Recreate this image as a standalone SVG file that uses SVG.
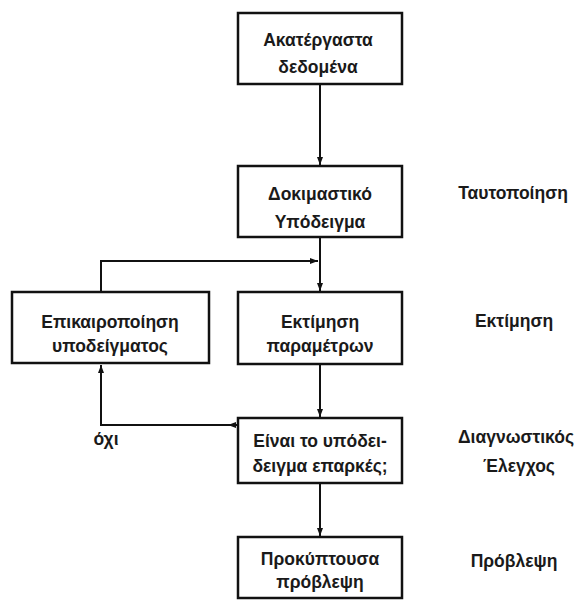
<svg xmlns="http://www.w3.org/2000/svg" width="575" height="600" viewBox="0 0 575 600">
<style>
.box{fill:#fff;stroke:#111;stroke-width:2.5}
.ln{fill:none;stroke:#111;stroke-width:2}
.t{font-family:"Liberation Sans",Arial,sans-serif;font-size:17.5px;font-weight:bold;fill:#1a1a1a;text-anchor:middle}
</style>
<defs>
<marker id="ah" markerWidth="8" markerHeight="6" refX="8" refY="3" orient="auto" markerUnits="userSpaceOnUse">
<path d="M0,0 L8,3 L0,6 Z" fill="#111"/>
</marker>
</defs>
<rect width="575" height="600" fill="#fff"/>
<g id="connectors">
<line class="ln" x1="320" y1="84" x2="320" y2="165" marker-end="url(#ah)"/>
<line class="ln" x1="320" y1="238" x2="320" y2="291" marker-end="url(#ah)"/>
<polyline class="ln" points="101,292 101,261 318,261" marker-end="url(#ah)"/>
<line class="ln" x1="320" y1="364" x2="320" y2="417" marker-end="url(#ah)"/>
<polyline class="ln" points="238,425 101,425 101,365" marker-end="url(#ah)"/>
<path d="M228,425 L236,422 L236,428 Z" fill="#111"/>
<line class="ln" x1="320" y1="483" x2="320" y2="536" marker-end="url(#ah)"/>
</g>
<g id="n1"><rect class="box" x="238" y="13" width="164" height="71"/>
<text class="t" x="318" y="46">Ακατέργαστα</text><text class="t" x="318" y="73">δεδομένα</text></g>
<g id="n2"><rect class="box" x="238" y="166" width="164" height="71"/>
<text class="t" x="320" y="200">Δοκιμαστικό</text><text class="t" x="320" y="228">Υπόδειγμα</text></g>
<g id="n3"><rect class="box" x="238" y="292" width="164" height="72"/>
<text class="t" x="320" y="328">Εκτίμηση</text><text class="t" x="320" y="352">παραμέτρων</text></g>
<g id="n4"><rect class="box" x="12" y="292" width="197" height="71"/>
<text class="t" x="110" y="328">Επικαιροποίηση</text><text class="t" x="110" y="352">υποδείγματος</text></g>
<g id="n5"><rect class="box" x="238" y="418" width="164" height="65"/>
<text class="t" x="320" y="447">Είναι το υπόδει-</text><text class="t" x="320" y="472">δειγμα επαρκές;</text></g>
<g id="n6"><rect class="box" x="238" y="537" width="164" height="61"/>
<text class="t" x="320" y="565">Προκύπτουσα</text><text class="t" x="320" y="588">πρόβλεψη</text></g>
<g id="labels">
<text class="t" x="106" y="445">όχι</text>
<text class="t" x="513" y="199">Ταυτοποίηση</text>
<text class="t" x="514" y="327">Εκτίμηση</text>
<text class="t" x="516" y="443">Διαγνωστικός</text>
<text class="t" x="519" y="472">Έλεγχος</text>
<text class="t" x="514" y="567">Πρόβλεψη</text>
</g>
</svg>
